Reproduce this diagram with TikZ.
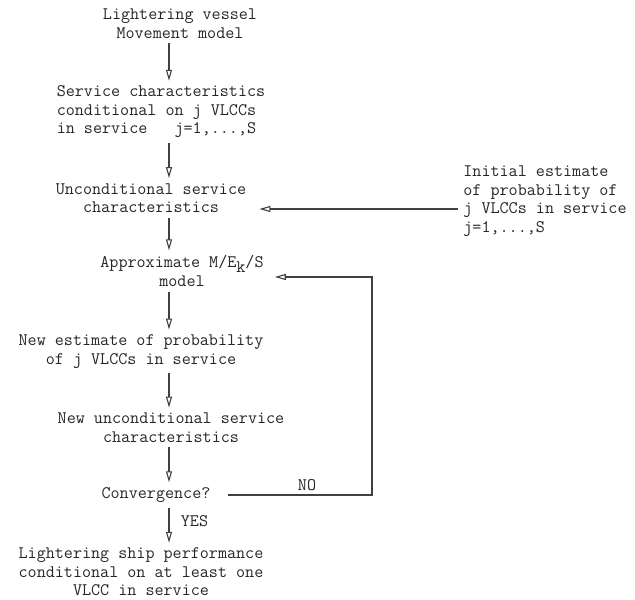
\documentclass[tikz,border=0pt]{standalone}
\usetikzlibrary{arrows.meta}

\tikzset{
  step box/.style={align=center, inner sep=5pt, text=black!85,
    font=\ttfamily\fontsize{17.6pt}{18.5pt}\selectfont},
  flow/.style={draw=black!75, line width=1.1pt,
    -{Triangle[open,length=11pt,width=6pt]}},
  tag/.style={font=\ttfamily\fontsize{17.6pt}{18.5pt}\selectfont, text=black!85}
}

\begin{document}
\begin{tikzpicture}[x=1pt,y=-1pt]
      \useasboundingbox (0,0) rectangle (635,600);
      \coordinate (spine) at (169,0);

      \node [step box] (lvm) at (180,23.5) {Lightering vessel\\Movement model};
      \node [step box,align=left,below of=lvm,node distance=88.5pt,xshift=-19pt] (cond)
        {Service characteristics\\conditional on j VLCCs\\in service\ \ \ j=1,{.}{.}{.},S};
      \node [step box,below of=cond,node distance=86pt,xshift=-10pt] (uncond)
        {Unconditional service\\characteristics};
      \node [step box,align=left,right of=uncond,node distance=394pt,yshift=-3pt] (init)
        {Initial estimate\\of probability of\\j VLCCs in service\\j=1,{.}{.}{.},S};
      \node [step box,below of=uncond,node distance=73pt,xshift=31pt] (approx)
        {Approximate M/E\raisebox{-5pt}{k}/S\\model};
      \node [step box,below of=approx,node distance=80.5pt,xshift=-41pt] (newest)
        {New estimate of probability\\of j VLCCs in service};
      \node [step box,below of=newest,node distance=76pt,xshift=30pt] (newunc)
        {New unconditional service\\characteristics};
      \node [step box,below of=newunc,node distance=67.5pt,xshift=-15pt] (conv)
        {Convergence?};
      \node [step box,below of=conv,node distance=77pt,xshift=-15pt] (perf)
        {Lightering ship performance\\conditional on at least one\\VLCC in service};

      % main column
      \draw [flow] (lvm.south -| spine) -- (cond.north -| spine);
      \draw [flow] (cond.south -| spine) -- (uncond.north -| spine);
      \draw [flow] (uncond.south -| spine) -- (approx.north -| spine);
      \draw [flow] (approx.south -| spine) -- (newest.north -| spine);
      \draw [flow] (newest.south -| spine) -- (newunc.north -| spine);
      \draw [flow] (newunc.south -| spine) -- (conv.north -| spine);
      \draw [flow] (conv.south -| spine) -- node [tag,right,xshift=8pt,yshift=4pt] {YES} (perf.north -| spine);

      % initial estimate and loop back
      \draw [flow] ([yshift=-8pt]init.west) -- ([yshift=-8pt,xshift=8pt]init.west -| uncond.east);
      \coordinate (loop) at (372,495);
      \draw [flow] ([xshift=12pt]conv.east) -- node [tag,above,pos=0.55] {NO} (loop)
        -- ([yshift=-6pt]loop |- approx.east) -- ([yshift=-6pt,xshift=6pt]approx.east);
\end{tikzpicture}
\end{document}
